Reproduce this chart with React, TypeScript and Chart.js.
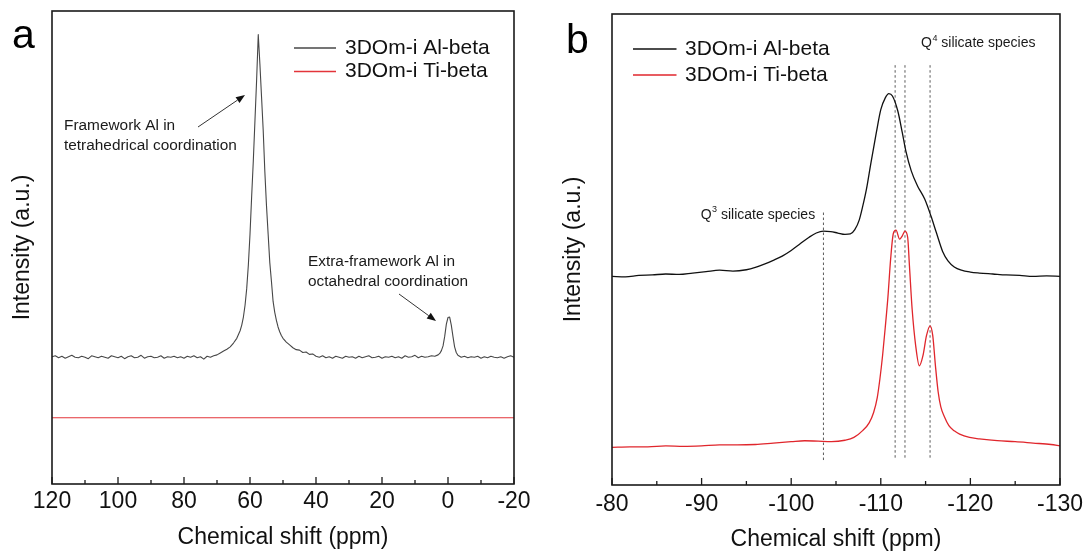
import React, { useEffect, useRef } from "react";
import { Chart, registerables } from "chart.js";

Chart.register(...registerables);

const FONT = "'Liberation Sans', Arial, Helvetica, sans-serif";

// ---------- Panel a: 27Al MAS NMR ----------
const alShiftA = [
  120, 119, 118, 117, 116, 115, 114, 113, 112, 111, 110, 109, 108, 107, 106, 105, 104, 103, 102, 101,
  100, 99, 98, 97, 96, 95, 94, 93, 92, 91, 90, 89, 88, 87, 86, 85, 84, 83, 82, 81,
  80, 79, 78, 77, 76, 75, 74, 73, 72, 71, 70, 69, 68, 67, 66, 65, 64, 63.5, 63, 62.5,
  62, 61.5, 61, 60.5, 60, 59.5, 59, 58.5, 58, 57.5, 57, 56.5, 56, 55.5, 55, 54.5, 54, 53.5, 53, 52.5,
  52, 51.5, 51, 50.5, 50, 49, 48, 47, 46, 45, 44, 43, 42, 41, 40, 39, 38, 37, 36, 35,
  34, 33, 32, 31, 30, 29, 28, 27, 26, 25, 24, 23, 22, 21, 20, 19, 18, 17, 16, 15,
  14, 13, 12, 11, 10, 9, 8, 7, 6, 5, 4, 3, 2.5, 2, 1.5, 1, 0.5, 0, -0.5, -1,
  -1.5, -2, -2.5, -3, -4, -5, -6, -7, -8, -9, -10, -11, -12, -13, -14, -15, -16, -17, -18, -19, -20,
];
const alIntensityA = [
  26.9, 27.1, 26.7, 27.0, 26.6, 26.9, 27.2, 26.8, 26.7, 27.0, 26.8, 26.5, 27.1, 26.9, 26.7, 27.0, 26.8, 26.6, 27.1, 26.9,
  26.7, 27.0, 26.5, 26.9, 27.1, 26.7, 26.8, 27.2, 26.6, 26.9, 27.0, 26.7, 26.8, 27.1, 26.6, 26.9, 26.8, 27.0, 26.7, 26.9,
  26.6, 27.0, 26.8, 27.1, 26.7, 26.9, 26.4, 27.0, 26.8, 27.1, 27.3, 27.7, 28.1, 28.5, 29.0, 29.8, 30.8, 31.6, 32.4, 33.6,
  35.3, 37.8, 41.3, 46.3, 52.8, 60.8, 68.3, 76.8, 85.3, 95.0, 88.8, 81.8, 74.8, 66.0, 58.8, 52.8, 46.8, 42.8, 38.6, 36.3,
  34.6, 33.2, 32.2, 31.4, 30.8, 30.0, 29.4, 28.8, 28.4, 28.3, 27.8, 27.9, 27.4, 27.5, 27.0, 26.8, 27.1, 26.7, 26.9, 26.6,
  27.0, 26.8, 26.6, 27.0, 26.8, 26.9, 26.6, 27.0, 26.7, 26.9, 27.1, 26.7, 26.8, 27.0, 26.6, 26.9, 26.8, 27.0, 26.7, 26.9,
  26.6, 27.1, 26.8, 26.9, 27.2, 26.7, 27.0, 26.8, 26.9, 27.1, 27.0, 27.3, 27.6, 28.2, 29.2, 31.2, 33.8, 35.2, 35.3, 33.6,
  31.2, 29.0, 27.8, 27.2, 26.8, 27.0, 26.7, 26.9, 26.8, 27.0, 26.6, 26.9, 26.7, 27.0, 26.8, 26.7, 26.9, 26.6, 26.9, 27.1, 26.8,
];
const tiShiftA = [120, -20];
const tiIntensityA = [14.0, 14.0];

const ticksA = [120, 100, 80, 60, 40, 20, 0, -20];
const minorTicksA = [110, 90, 70, 50, 30, 10, -10];

// ---------- Panel b: 29Si MAS NMR ----------
const alShiftB = [
  -80, -81.5, -83, -84.5, -86, -87.5, -89, -90.5, -92, -93.5,
  -95, -96, -97, -98, -99, -100, -101, -102, -102.8, -103.6,
  -104.4, -105.2, -106, -106.6, -107.1, -107.6, -108, -108.4, -108.9, -109.5,
  -110, -110.5, -110.9, -111.3, -111.9, -112.4, -112.8, -113.4, -114.1, -114.9,
  -115.6, -116.2, -116.9, -117.5, -118.2, -119, -120, -121, -122.5, -124,
  -125.5, -127, -128.5, -130,
];
const alIntensityB = [
  44.3, 44.2, 44.5, 44.6, 44.8, 44.7, 45.0, 45.3, 45.6, 45.4,
  45.7, 46.2, 46.9, 47.7, 48.6, 49.8, 51.2, 52.6, 53.5, 53.9,
  53.8, 53.5, 53.2, 53.3, 54.2, 56.3, 59.3, 62.8, 68.4, 74.8,
  79.7, 82.2, 83.1, 82.6, 79.4, 74.8, 70.9, 66.7, 63.5, 60.7,
  57.1, 53.6, 49.6, 47.6, 46.3, 45.6, 45.2, 45.0, 44.8, 44.6,
  44.5, 44.3, 44.4, 44.3,
];
const tiShiftB = [
  -80, -82, -84, -86, -88, -90, -92, -94, -96, -98,
  -100, -101.5, -103, -104.5, -106, -107, -108, -108.7, -109.2, -109.6,
  -109.9, -110.2, -110.5, -110.8, -111.1, -111.4, -111.7, -112.1, -112.4, -112.7,
  -113.0, -113.2, -113.5, -113.9, -114.3, -114.7, -115.1, -115.5, -115.8, -116.1,
  -116.4, -116.7, -117.1, -117.6, -118.2, -118.8, -119.9, -121, -123, -125,
  -127, -129, -130,
];
const tiIntensityB = [
  8.0, 8.1, 8.1, 8.3, 8.2, 8.3, 8.5, 8.5, 8.6, 8.9,
  9.2, 9.4, 9.3, 9.2, 9.5, 10.1, 11.6, 13.2, 15.4, 18.5,
  22.5, 27.5, 33.5, 40.0, 48.0, 53.4, 54.1, 52.2, 52.9, 53.9,
  52.6, 46.5, 37.3, 29.5, 25.3, 27.4, 31.7, 33.8, 31.7, 25.3,
  19.8, 16.6, 14.5, 12.6, 11.5, 10.8, 10.1, 9.8, 9.4, 9.2,
  8.9, 8.6, 8.3,
];
const q4Shifts = [-111.6, -112.7, -115.5];
const q4Range = [5.8, 89.4];
const q3Shifts = [-103.6];
const q3Range = [5.3, 58.2];

const ticksB = [-80, -90, -100, -110, -120, -130];
const minorTicksB = [-85, -95, -105, -115, -125];

const seriesLabels = ["3DOm-i Al-beta", "3DOm-i Ti-beta"];

// ---------- helpers ----------
const toPoints = (xs: number[], ys: number[]) => xs.map((x, i) => ({ x, y: ys[i] }));

const frameTicksPlugin = {
  id: "frameTicks",
  afterDatasetsDraw(chart: any, _args: any, opts: any) {
    const { ctx, chartArea } = chart;
    const { left, right, top, bottom } = chartArea;
    const xs = chart.scales.x;
    ctx.save();
    ctx.strokeStyle = "#1a1a1a";
    ctx.lineWidth = 1.6;
    ctx.strokeRect(left, top, right - left, bottom - top);
    ctx.lineWidth = 1.3;
    ctx.beginPath();
    for (const v of opts.major) {
      const px = xs.getPixelForValue(v);
      ctx.moveTo(px, bottom);
      ctx.lineTo(px, bottom - 7);
    }
    for (const v of opts.minor) {
      const px = xs.getPixelForValue(v);
      ctx.moveTo(px, bottom);
      ctx.lineTo(px, bottom - 4);
    }
    ctx.stroke();
    ctx.restore();
  },
};

const annotPlugin = {
  id: "annot",
  afterDraw(chart: any, _args: any, opts: any) {
    const ctx = chart.ctx;
    ctx.save();
    // panel letter
    ctx.fillStyle = "#000";
    ctx.textAlign = "left";
    ctx.textBaseline = "alphabetic";
    ctx.font = `41px ${FONT}`;
    ctx.fillText(opts.letter.text, opts.letter.x, opts.letter.y);

    // legend
    const lg = opts.legend;
    const items = chart.data.datasets.filter((d: any) => d.inLegend);
    ctx.textBaseline = "middle";
    items.forEach((ds: any, i: number) => {
      const y = lg.y + i * lg.gap;
      ctx.strokeStyle = ds.borderColor;
      ctx.lineWidth = 1.3;
      ctx.beginPath();
      ctx.moveTo(lg.x0, y);
      ctx.lineTo(lg.x1, y);
      ctx.stroke();
      ctx.fillStyle = "#111";
      ctx.font = `${lg.size}px ${FONT}`;
      ctx.fillText(ds.label, lg.tx, y);
    });

    // multi-line notes
    (opts.notes || []).forEach((n: any) => {
      ctx.fillStyle = "#1a1a1a";
      ctx.font = `${n.size}px ${FONT}`;
      n.lines.forEach((line: string, i: number) => ctx.fillText(line, n.x, n.y + i * n.gap));
    });

    // notes with superscript
    (opts.supNotes || []).forEach((n: any) => {
      ctx.fillStyle = "#1a1a1a";
      ctx.font = `${n.size}px ${FONT}`;
      let x = n.x;
      ctx.fillText(n.base, x, n.y);
      x += ctx.measureText(n.base).width + 0.5;
      ctx.font = `${Math.round(n.size * 0.62)}px ${FONT}`;
      ctx.fillText(n.sup, x, n.y - n.size * 0.36);
      x += ctx.measureText(n.sup).width;
      ctx.font = `${n.size}px ${FONT}`;
      ctx.fillText(n.rest, x, n.y);
    });

    // arrows
    (opts.arrows || []).forEach((a: any) => {
      const [x0, y0] = a.from;
      const [x1, y1] = a.to;
      const ang = Math.atan2(y1 - y0, x1 - x0);
      const hl = 9;
      const hw = 3.5;
      const bx = x1 - hl * Math.cos(ang);
      const by = y1 - hl * Math.sin(ang);
      ctx.strokeStyle = "#333";
      ctx.lineWidth = 1;
      ctx.beginPath();
      ctx.moveTo(x0, y0);
      ctx.lineTo(bx, by);
      ctx.stroke();
      ctx.fillStyle = "#111";
      ctx.beginPath();
      ctx.moveTo(x1, y1);
      ctx.lineTo(bx + hw * Math.sin(ang), by - hw * Math.cos(ang));
      ctx.lineTo(bx - hw * Math.sin(ang), by + hw * Math.cos(ang));
      ctx.closePath();
      ctx.fill();
    });
    ctx.restore();
  },
};

function makeOptions(p: any) {
  return {
    responsive: false,
    animation: false,
    devicePixelRatio: 1,
    events: [],
    layout: { padding: { left: 0, right: p.padRight, top: p.padTop, bottom: 0 } },
    plugins: {
      legend: { display: false },
      tooltip: { enabled: false },
      frameTicks: { major: p.major, minor: p.minor },
      annot: p.annot,
    },
    scales: {
      x: {
        type: "linear",
        min: p.xMin,
        max: p.xMax,
        reverse: true,
        grid: { display: false, drawTicks: false },
        border: { display: false },
        ticks: {
          stepSize: p.step,
          autoSkip: false,
          maxRotation: 0,
          color: "#111",
          padding: p.tickPad,
          font: { family: FONT, size: 23 },
        },
        title: {
          display: true,
          text: "Chemical shift (ppm)",
          color: "#111",
          font: { family: FONT, size: 23 },
          padding: { top: 0, bottom: p.xTitlePad },
        },
        afterFit: (s: any) => {
          s.height = p.xHeight;
        },
      },
      y: {
        min: 0,
        max: 100,
        grid: { display: false, drawTicks: false },
        border: { display: false },
        ticks: { display: false },
        title: {
          display: true,
          text: "Intensity (a.u.)",
          color: "#111",
          font: { family: FONT, size: 23 },
          padding: { top: p.yTitlePad, bottom: 0 },
        },
        afterFit: (s: any) => {
          s.width = p.yWidth;
        },
      },
    },
  };
}

const lineDs = (label: string, xs: number[], ys: number[], color: string, width: number, smooth: boolean) => ({
  label,
  data: toPoints(xs, ys),
  borderColor: color,
  borderWidth: width,
  pointRadius: 0,
  tension: 0,
  cubicInterpolationMode: smooth ? "monotone" : "default",
  fill: false,
  inLegend: true,
  borderJoinStyle: "round",
});

const dashDs = (shift: number, range: number[]) => ({
  label: "",
  data: [
    { x: shift, y: range[0] },
    { x: shift, y: range[1] },
  ],
  borderColor: "#5a5a5a",
  borderWidth: 1,
  borderDash: [2.5, 2.5],
  pointRadius: 0,
  fill: false,
  inLegend: false,
});

function configA() {
  return {
    type: "line",
    data: {
      datasets: [
        lineDs(seriesLabels[0], alShiftA, alIntensityA, "#474747", 1.1, false),
        lineDs(seriesLabels[1], tiShiftA, tiIntensityA, "#e3343a", 1.1, false),
      ],
    },
    options: makeOptions({
      padRight: 31,
      padTop: 11,
      xMin: -20,
      xMax: 120,
      step: 20,
      tickPad: 4,
      xTitlePad: 3,
      xHeight: 70,
      yTitlePad: 9,
      yWidth: 52,
      major: ticksA,
      minor: minorTicksA,
      annot: {
        letter: { text: "a", x: 12, y: 48 },
        legend: { x0: 294, x1: 336, tx: 345, y: 48, gap: 23.5, size: 21 },
        notes: [
          { lines: ["Framework Al in", "tetrahedrical coordination"], x: 64, y: 126, gap: 19.5, size: 15.4 },
          { lines: ["Extra-framework Al in", "octahedral coordination"], x: 308, y: 262, gap: 20, size: 15.4 },
        ],
        arrows: [
          { from: [198, 127], to: [245, 95] },
          { from: [399, 294], to: [436, 321] },
        ],
      },
    }),
    plugins: [frameTicksPlugin, annotPlugin],
  };
}

function configB() {
  return {
    type: "line",
    data: {
      datasets: [
        lineDs(seriesLabels[0], alShiftB, alIntensityB, "#111111", 1.3, true),
        lineDs(seriesLabels[1], tiShiftB, tiIntensityB, "#e0262c", 1.3, true),
        ...q4Shifts.map((s) => dashDs(s, q4Range)),
        ...q3Shifts.map((s) => dashDs(s, q3Range)),
      ],
    },
    options: makeOptions({
      padRight: 28,
      padTop: 14,
      xMin: -130,
      xMax: -80,
      step: 10,
      tickPad: 6,
      xTitlePad: 1,
      xHeight: 69,
      yTitlePad: 14.7,
      yWidth: 67,
      major: ticksB,
      minor: minorTicksB,
      annot: {
        letter: { text: "b", x: 21, y: 53 },
        legend: { x0: 88, x1: 131.5, tx: 140, y: 49, gap: 26, size: 21 },
        supNotes: [
          { base: "Q", sup: "4", rest: " silicate species", x: 376, y: 43.5, size: 14 },
          { base: "Q", sup: "3", rest: " silicate species", x: 155.7, y: 215, size: 14 },
        ],
      },
    }),
    plugins: [frameTicksPlugin, annotPlugin],
  };
}

function Panel({ left, width, height, build }: { left: number; width: number; height: number; build: () => any }) {
  const ref = useRef<HTMLCanvasElement>(null);
  useEffect(() => {
    const chart = new Chart(ref.current as HTMLCanvasElement, build());
    return () => chart.destroy();
  }, []);
  return (
    <canvas
      ref={ref}
      width={width}
      height={height}
      style={{ position: "absolute", left, top: 0, width, height, display: "block" }}
    />
  );
}

export default function App() {
  return (
    <div style={{ position: "absolute", left: 0, top: 0, width: 1089, height: 554, background: "#fff", overflow: "hidden" }}>
      <Panel left={0} width={545} height={554} build={configA} />
      <Panel left={545} width={544} height={554} build={configB} />
    </div>
  );
}
